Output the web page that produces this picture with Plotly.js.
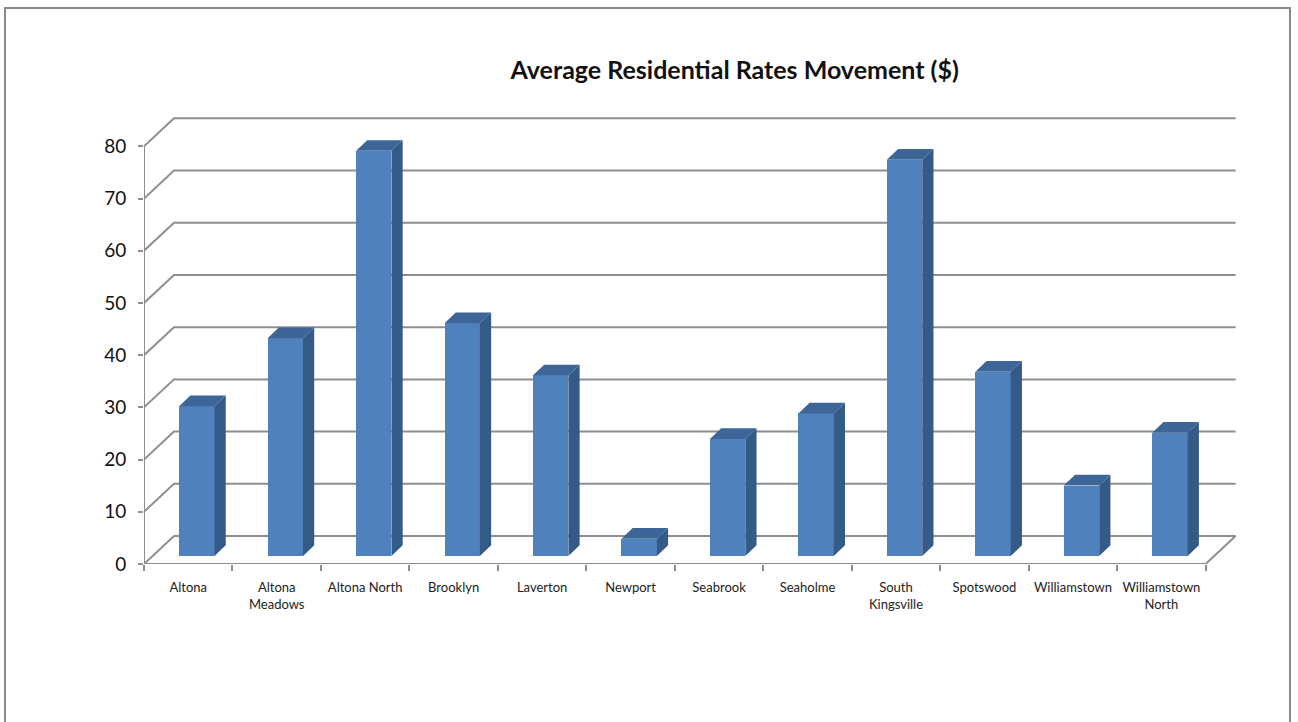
<!DOCTYPE html>
<html>
<head>
<meta charset="utf-8">
<script src="https://cdn.plot.ly/plotly-3.0.1.min.js"></script>
<style>
  html, body { margin: 0; padding: 0; background: #ffffff; }
  #wrap { position: relative; width: 1298px; height: 722px; overflow: hidden; }
  #chart { width: 1298px; height: 722px; }
  #frame { position: absolute; left: 4px; top: 7px; width: 1287px; height: 740px;
           border: 2px solid #8a8a8a; box-sizing: border-box; pointer-events: none; }
</style>
</head>
<body>
<div id="wrap">
  <div id="chart"></div>
  <div id="frame"></div>
</div>
<script>
// ---- data ----
const suburbs = ["Altona", "Altona<br>Meadows", "Altona North", "Brooklyn", "Laverton", "Newport",
                 "Seabrook", "Seaholme", "South<br>Kingsville", "Spotswood", "Williamstown", "Williamstown<br>North"];
const rateMovement = [28.7, 41.7, 77.6, 44.6, 34.6, 3.3, 22.4, 27.3, 75.9, 35.3, 13.5, 23.6];
const yTicks = [0, 10, 20, 30, 40, 50, 60, 70, 80];
const chartTitle = "Average Residential Rates Movement ($)";

// ---- 3D-look geometry (in axis units) ----
const N = suburbs.length;
const DX = 0.339, DY = 5.36;          // wall depth offset
const BF = 0.286;                     // bar front position within depth
const BDX = 0.127, BDY = 2.05;        // bar depth
const BW = 0.40;                      // bar width
const gridColor = "#8e8e8e";

const shapes = [];
// gridlines on the left/back walls
yTicks.forEach(v => {
  shapes.push({type: "path", xref: "x", yref: "y", layer: "below",
    path: `M 0 ${v} L ${DX} ${v + DY} L ${N + DX} ${v + DY}`,
    line: {color: gridColor, width: 2}});
});
// floor front and right edges, front vertical axis
shapes.push({type: "path", xref: "x", yref: "y", layer: "below",
  path: `M 0 0 L ${N} 0 L ${N + DX} ${DY}`, line: {color: gridColor, width: 2}});
shapes.push({type: "path", xref: "x", yref: "y", layer: "below",
  path: `M 0 0 L 0 ${yTicks[yTicks.length - 1]}`, line: {color: gridColor, width: 2}});

// bar positions
const base = BF * DY;
const xFront = suburbs.map((_, i) => i + 0.5 + BF * DX);

const traces = [];
// front faces
traces.push({type: "bar", x: xFront, y: rateMovement, base: base, width: BW,
  marker: {color: "#4F81BD", line: {width: 0}}, hoverinfo: "skip", showlegend: false});

// side and top faces
const sx = [], sy = [], tx = [], ty = [];
rateMovement.forEach((v, i) => {
  const x0 = xFront[i] - BW / 2, x1 = xFront[i] + BW / 2, top = base + v;
  sx.push(x1, x1, x1 + BDX, x1 + BDX, x1, null);
  sy.push(base, top, top + BDY, base + BDY, base, null);
  tx.push(x0, x1, x1 + BDX, x0 + BDX, x0, null);
  ty.push(top, top, top + BDY, top + BDY, top, null);
});
traces.push({type: "scatter", mode: "lines", x: sx, y: sy, fill: "toself",
  fillcolor: "#345A87", line: {width: 0, color: "#345A87"}, hoverinfo: "skip", showlegend: false});
traces.push({type: "scatter", mode: "lines", x: tx, y: ty, fill: "toself",
  fillcolor: "#3D6598", line: {width: 0, color: "#3D6598"}, hoverinfo: "skip", showlegend: false});
// dummy trace on overlay axis for category boundary ticks
traces.push({type: "scatter", x: [0], y: [0], xaxis: "x2", mode: "markers",
  marker: {opacity: 0}, hoverinfo: "skip", showlegend: false});

const layout = {
  width: 1298, height: 722,
  margin: {l: 144, r: 57, t: 115, b: 158},
  paper_bgcolor: "#ffffff", plot_bgcolor: "rgba(0,0,0,0)",
  title: {text: chartTitle, x: 0.566, xanchor: "center", y: 0.903, yanchor: "middle",
          font: {family: "Lato, 'Open Sans', sans-serif", size: 25, color: "#111111", weight: 700}},
  showlegend: false,
  bargap: 0,
  xaxis: {range: [0, N + 0.4], tickvals: suburbs.map((_, i) => i + 0.5), ticktext: suburbs,
          showgrid: false, zeroline: false, showline: false, ticks: "", tickangle: 0,
          ticklabelstandoff: 14,
          tickfont: {family: "Lato, 'Open Sans', sans-serif", size: 13, color: "#222222"}},
  xaxis2: {overlaying: "x", matches: "x", range: [0, N + 0.4], tickvals: suburbs.map((_, i) => i).concat([N]),
           showticklabels: false, ticks: "outside", ticklen: 6, tickwidth: 2, tickcolor: gridColor,
           showgrid: false, zeroline: false, showline: false, side: "bottom", anchor: "y"},
  yaxis: {range: [0, 86], tickvals: yTicks, ticks: "outside", ticklen: 5, tickwidth: 2, tickcolor: gridColor,
          showgrid: false, zeroline: false, showline: false, ticklabelstandoff: 8,
          tickfont: {family: "Lato, 'Open Sans', sans-serif", size: 19, color: "#111111"}},
  shapes: shapes
};

Plotly.newPlot("chart", traces, layout, {displayModeBar: false, staticPlot: true});
</script>
</body>
</html>
